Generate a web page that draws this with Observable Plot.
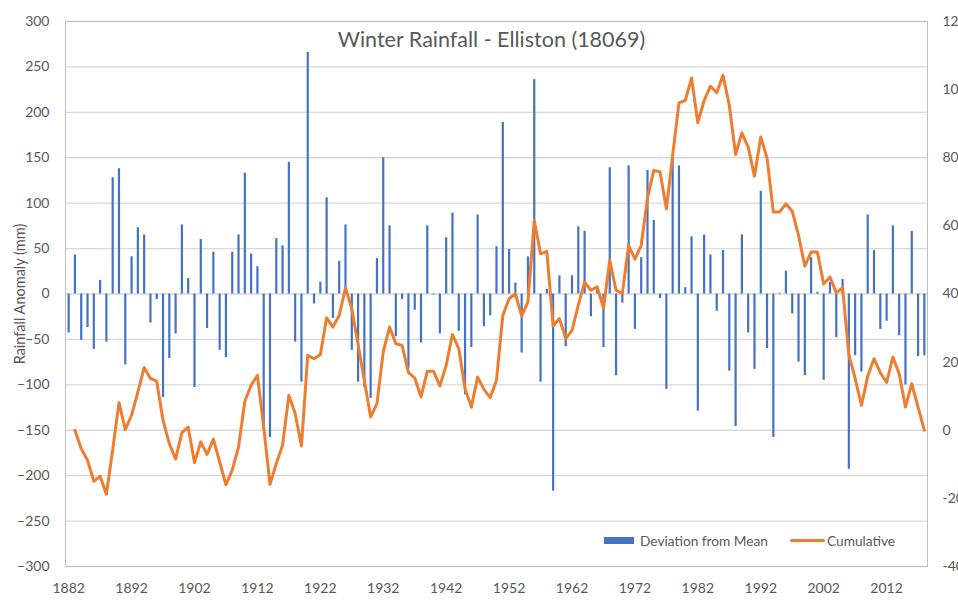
<!DOCTYPE html>
<html>
<head>
<meta charset="utf-8">
<script src="https://cdn.jsdelivr.net/npm/d3@7"></script>
<script src="https://cdn.jsdelivr.net/npm/@observablehq/plot@0.6"></script>
<style>
  html, body { margin: 0; padding: 0; background: #fff; overflow: hidden; }
  #wrap { position: relative; width: 958px; height: 609px; font-family: Lato, "Open Sans", sans-serif; }
  #chart svg { display: block; }
  .lg { position: absolute; }
  .lgtext { font-size: 13.7px; color: #595959; line-height: 16px; top: 533px; white-space: nowrap; }
</style>
</head>
<body>
<div id="wrap">
  <div id="chart"></div>
  <div class="lg" style="left:604px;top:537px;width:30px;height:7px;background:#4472C4"></div>
  <div class="lg lgtext" style="left:640px">Deviation from Mean</div>
  <div class="lg" style="left:790px;top:539px;width:35px;height:3px;background:#ED7D31;border-radius:1.5px"></div>
  <div class="lg lgtext" style="left:827px">Cumulative</div>
</div>
<script>
// Years on the category axis
const years = d3.range(1882, 2019);

// Deviation from mean (mm), 1882–2018
const deviation = [
  -43, 43, -51, -37, -61, 15, -53, 128, 138, -78,
  41, 73, 65, -32, -6, -114, -71, -44, 76, 17,
  -103, 60, -38, 46, -62, -70, 46, 65, 133, 44,
  30, -150, -158, 61, 53, 145, -53, -97, 266, -11,
  13, 106, -27, 36, 76, -62, -97, -103, -115, 39,
  150, 75, -47, -6, -82, -18, -54, 75, -1, -44,
  62, 89, -41, -111, -59, 87, -36, -24, 52, 189,
  49, 12, -65, 41, 236, -97, 5, -217, 20, -58,
  20, 74, 69, -25, 8, -59, 139, -90, -10, 141,
  -39, 40, 136, 81, -5, -105, 150, 141, 7, 63,
  -129, 65, 43, -19, 48, -85, -146, 65, -43, -83,
  113, -60, -158, 1, 25, -22, -75, -90, 40, 2,
  -95, 13, -48, 16, -193, -68, -86, 87, 48, -39,
  -30, 75, -46, -100, 69, -69, -68
];

// Cumulative (right axis), 1882–2018
const cumulative = [
  null, 0, -54, -88, -150, -135, -188, -57, 81, 2,
  44, 112, 184, 152, 144, 29, -39, -85, -7, 9,
  -95, -34, -71, -26, -93, -160, -117, -49, 85, 132,
  161, 10, -159, -98, -44, 103, 49, -46, 220, 210,
  222, 330, 303, 337, 418, 357, 252, 145, 39, 78,
  230, 303, 254, 249, 169, 154, 98, 173, 173, 130,
  191, 281, 240, 122, 68, 156, 120, 96, 147, 337,
  386, 401, 335, 377, 616, 518, 525, 306, 328, 269,
  293, 367, 435, 411, 421, 359, 499, 411, 401, 543,
  502, 543, 682, 763, 758, 650, 807, 961, 968, 1034,
  903, 968, 1010, 991, 1042, 954, 809, 873, 831, 746,
  861, 799, 641, 641, 665, 643, 572, 482, 523, 523,
  429, 450, 404, 418, 222, 152, 73, 159, 210, 169,
  140, 215, 166, 68, 137, 68, 0
];

const xTicks = [1882, 1892, 1902, 1912, 1922, 1932, 1942, 1952, 1962, 1972, 1982, 1992, 2002, 2012];
const leftTicks = [-300, -250, -200, -150, -100, -50, 0, 50, 100, 150, 200, 250, 300];
const rightTicks = [-400, -200, 0, 200, 400, 600, 800, 1000, 1200];
const leftDomain = [-300, 300];
const rightDomain = [-400, 1200];

const title = "Winter Rainfall - Elliston (18069)";
const yLabel = "Rainfall Anomaly (mm)";

// map secondary-axis values onto the primary axis
const toLeft = c => leftDomain[0] + (c - rightDomain[0]) * (leftDomain[1] - leftDomain[0]) / (rightDomain[1] - rightDomain[0]);

const rows = years.map((year, i) => ({year, dev: deviation[i], cum: cumulative[i]}));
const lineRows = rows.filter(d => d.cum != null);

const plot = Plot.plot({
  width: 958,
  height: 609,
  marginLeft: 65,
  marginRight: 31,
  marginTop: 21,
  marginBottom: 43,
  style: {fontFamily: "Lato, 'Open Sans', sans-serif", fontSize: "14px", color: "#595959", overflow: "hidden", background: "transparent"},
  x: {type: "linear", domain: [years[0] - 0.5, years[years.length - 1] + 0.5]},
  y: {domain: leftDomain},
  marks: [
    Plot.gridY(leftTicks, {stroke: "#d9d9d9", strokeOpacity: 1, strokeWidth: 1.3}),
    Plot.frame({stroke: "#bfbfbf", strokeWidth: 1}),
    Plot.ruleX(rows, {x: "year", y1: 0, y2: "dev", stroke: "#4472C4", strokeWidth: 2.2}),
    Plot.line(lineRows, {x: "year", y: d => toLeft(d.cum), stroke: "#ED7D31", strokeWidth: 3, strokeLinejoin: "round"}),
    Plot.axisY(leftTicks, {anchor: "left", tickSize: 0, tickPadding: 16, label: null, fill: "#595959", fontSize: 14}),
    Plot.axisY(rightTicks.map(toLeft), {anchor: "right", tickSize: 0, tickPadding: 15, label: null, fill: "#595959", fontSize: 14,
      tickFormat: (d, i) => String(rightTicks[i])}),
    Plot.axisX(xTicks, {anchor: "bottom", tickSize: 0, tickPadding: 17, label: null, fill: "#595959", fontSize: 14, tickFormat: d => String(d)}),
    Plot.text([yLabel], {frameAnchor: "left", textAnchor: "middle", lineAnchor: "middle", rotate: -90, dx: -45, fontSize: 14.5, fill: "#595959"}),
    Plot.text([title], {frameAnchor: "top", lineAnchor: "middle", dy: 19, dx: -5, fontSize: 21.5, fill: "#595959"})
  ]
});
document.getElementById("chart").appendChild(plot);
</script>
</body>
</html>
